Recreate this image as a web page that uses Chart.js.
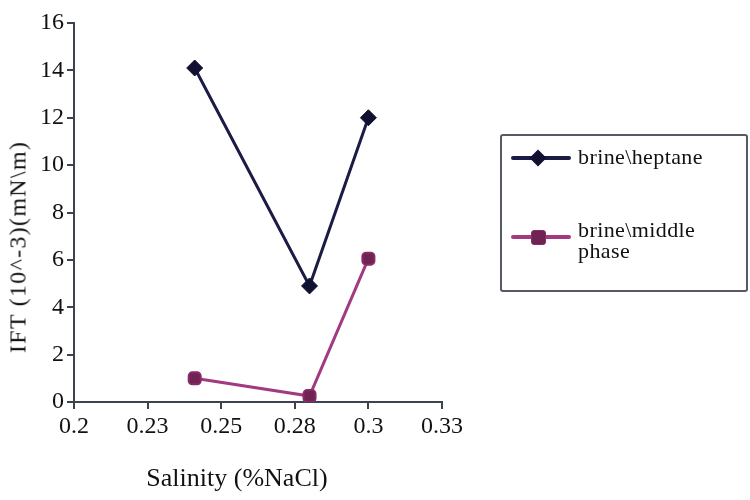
<!DOCTYPE html>
<html>
<head>
<meta charset="utf-8">
<script src="https://cdn.jsdelivr.net/npm/chart.js@4/dist/chart.umd.min.js"></script>
<style>
  html, body { margin: 0; padding: 0; background: #fff; }
  #wrap { position: relative; width: 750px; height: 500px; }
  .serif { font-family: "Liberation Serif", "Times New Roman", serif; color: #111; }
  .axis-title { position: absolute; white-space: nowrap; transform: translate(-50%, -50%); }
  #x-title { left: 237px; top: 478px; font-size: 26px; }
  #y-title { left: 18px; top: 247px; font-size: 24px; letter-spacing: 1.3px; transform: translate(-50%, -50%) rotate(-90deg); }
  #legend {
    position: absolute; left: 500px; top: 134px; width: 248px; height: 158px;
    border: 2px solid #555a63; border-radius: 3px; box-sizing: border-box;
    font-size: 22px;
  }
  .ln { position: absolute; height: 4px; width: 60px; left: 9px; border-radius: 2px; }
  .mk { position: absolute; }
  .label { position: absolute; left: 76px; line-height: 21px; letter-spacing: 0.4px; }
</style>
</head>
<body>
<div id="wrap">
  <canvas id="chart" width="750" height="500"></canvas>
  <div id="x-title" class="axis-title serif"></div>
  <div id="y-title" class="axis-title serif"></div>
  <div id="legend" class="serif"></div>
</div>
<script>
// data
const salinity = [0.241, 0.28, 0.30];
const heptaneIFT = [14.1, 4.9, 12.0];
const middleIFT = [1.0, 0.25, 6.05];
const xTickLabels = ['0.2', '0.23', '0.25', '0.28', '0.3', '0.33'];
const yTickValues = [0, 2, 4, 6, 8, 10, 12, 14, 16];
const seriesNames = ['brine\\heptane', 'brine\\middle phase'];
const xTitle = 'Salinity (%NaCl)';
const yTitle = 'IFT (10^-3)(mN\\m)';

const axisColor = '#3c4250';
const navy = '#1b1b45';
const plum = '#a23a82';
const plumDark = '#6e2352';
const serif = '"Liberation Serif", "Times New Roman", serif';

const toPoints = (ys) => salinity.map((x, i) => ({ x: x, y: ys[i] }));

const chart = new Chart(document.getElementById('chart'), {
  type: 'line',
  data: {
    datasets: [
      {
        label: seriesNames[0],
        data: toPoints(heptaneIFT),
        borderColor: navy,
        backgroundColor: '#101030',
        borderWidth: 3,
        pointStyle: 'rectRot',
        pointRadius: 8,
        pointBorderWidth: 1,
        pointBorderColor: '#101030',
        tension: 0
      },
      {
        label: seriesNames[1],
        data: toPoints(middleIFT),
        borderColor: plum,
        backgroundColor: plumDark,
        borderWidth: 3,
        pointStyle: 'rectRounded',
        pointRadius: 7,
        pointBorderWidth: 2,
        pointBorderColor: '#8a2a68',
        tension: 0
      }
    ]
  },
  options: {
    responsive: false,
    animation: false,
    layout: { padding: { top: 23, right: 308, left: 0, bottom: 0 } },
    plugins: {
      legend: { display: false },
      tooltip: { enabled: false }
    },
    scales: {
      x: {
        type: 'linear',
        min: 0.2,
        max: 0.325,
        afterBuildTicks: (scale) => {
          scale.ticks = xTickLabels.map((t, i) => ({ value: 0.2 + i * 0.025 }));
        },
        ticks: {
          callback: (v, i) => xTickLabels[i],
          font: { family: serif, size: 24 },
          color: '#111',
          maxRotation: 0,
          padding: 3
        },
        grid: { drawOnChartArea: false, tickLength: 7, color: axisColor, lineWidth: 2 },
        border: { color: axisColor, width: 2 },
        afterFit: (scale) => { scale.height = 98; }
      },
      y: {
        min: 0,
        max: 16,
        afterBuildTicks: (scale) => {
          scale.ticks = yTickValues.map((v) => ({ value: v }));
        },
        ticks: {
          font: { family: serif, size: 24 },
          color: '#111',
          padding: 3
        },
        grid: { drawOnChartArea: false, tickLength: 7, color: axisColor, lineWidth: 2 },
        border: { color: axisColor, width: 2 },
        afterFit: (scale) => { scale.width = 74; }
      }
    }
  }
});

document.getElementById('x-title').textContent = xTitle;
document.getElementById('y-title').textContent = yTitle;

// legend as html so the second label can wrap like the original
const legendEl = document.getElementById('legend');
const lineTops = [20, 99];
const textTops = [10, 83];
chart.data.datasets.forEach((ds, i) => {
  const ln = document.createElement('div');
  ln.className = 'ln';
  ln.style.top = lineTops[i] + 'px';
  ln.style.background = ds.borderColor;
  legendEl.appendChild(ln);

  const mk = document.createElement('div');
  mk.className = 'mk';
  mk.style.background = ds.backgroundColor;
  if (i === 0) {
    mk.style.width = '12px';
    mk.style.height = '12px';
    mk.style.left = '30px';
    mk.style.top = (lineTops[i] - 4) + 'px';
    mk.style.transform = 'rotate(45deg)';
  } else {
    mk.style.width = '15px';
    mk.style.height = '15px';
    mk.style.left = '29px';
    mk.style.top = (lineTops[i] - 5.5) + 'px';
    mk.style.borderRadius = '3px';
    mk.style.border = '1px solid ' + ds.pointBorderColor;
    mk.style.boxSizing = 'border-box';
  }
  legendEl.appendChild(mk);

  const lab = document.createElement('div');
  lab.className = 'label';
  lab.style.top = textTops[i] + 'px';
  lab.style.width = i === 0 ? 'auto' : '140px';
  lab.textContent = ds.label;
  legendEl.appendChild(lab);
});
</script>
</body>
</html>
